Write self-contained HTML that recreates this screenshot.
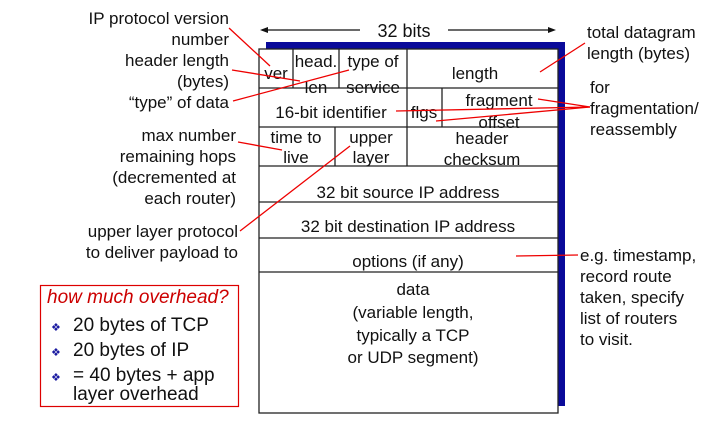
<!DOCTYPE html>
<html><head><meta charset="utf-8"><style>
body{margin:0;background:#fff;width:727px;height:426px;overflow:hidden}
svg{display:block}
text{font-family:"Liberation Sans",Arial,sans-serif;font-size:17px;fill:#111}
.l{text-anchor:end}
.c{text-anchor:middle}
.b{font-size:19px}
</style></head><body>
<svg width="727" height="426" viewBox="0 0 727 426">
<rect x="266" y="42" width="299" height="8" fill="#0a0a9a"/>
<rect x="558" y="42" width="7" height="364" fill="#0a0a9a"/>
<g stroke="#222" stroke-width="1.3" fill="none">
<rect x="259" y="49" width="299" height="364" fill="#fff"/>
<line x1="259" y1="88" x2="558" y2="88"/>
<line x1="259" y1="127" x2="558" y2="127"/>
<line x1="259" y1="166" x2="558" y2="166"/>
<line x1="259" y1="202" x2="558" y2="202"/>
<line x1="259" y1="238" x2="558" y2="238"/>
<line x1="259" y1="272" x2="558" y2="272"/>
<line x1="293" y1="49" x2="293" y2="88"/>
<line x1="339" y1="49" x2="339" y2="88"/>
<line x1="407" y1="49" x2="407" y2="166"/>
<line x1="442" y1="88" x2="442" y2="127"/>
<line x1="335" y1="127" x2="335" y2="166"/>
</g>
<line x1="262" y1="30" x2="360" y2="30" stroke="#111" stroke-width="1.2"/>
<polygon points="260,30 268,27 268,33" fill="#111"/>
<line x1="448" y1="30" x2="553" y2="30" stroke="#111" stroke-width="1.2"/>
<polygon points="556,30 548,27 548,33" fill="#111"/>
<text x="404" y="37" class="c" style="font-size:18px">32 bits</text>
<text x="276" y="79" class="c">ver</text>
<text x="316" y="67" class="c">head.</text>
<text x="316" y="93" class="c">len</text>
<text x="373" y="67" class="c">type of</text>
<text x="373" y="93" class="c">service</text>
<text x="475" y="79" class="c">length</text>
<text x="331" y="118" class="c">16-bit identifier</text>
<text x="424" y="118" class="c">flgs</text>
<text x="499" y="106" class="c">fragment</text>
<text x="499" y="128" class="c">offset</text>
<text x="296" y="143" class="c">time to</text>
<text x="296" y="163" class="c">live</text>
<text x="371" y="143" class="c">upper</text>
<text x="371" y="163" class="c">layer</text>
<text x="482" y="144" class="c">header</text>
<text x="482" y="165" class="c">checksum</text>
<text x="408" y="198" class="c">32 bit source IP address</text>
<text x="408" y="232" class="c">32 bit destination IP address</text>
<text x="408" y="267" class="c">options (if any)</text>
<text x="413" y="295" class="c">data</text>
<text x="413" y="318" class="c">(variable length,</text>
<text x="413" y="341" class="c">typically a TCP</text>
<text x="413" y="363" class="c">or UDP segment)</text>
<text x="229" y="24" class="l">IP protocol version</text>
<text x="229" y="45" class="l">number</text>
<text x="229" y="66" class="l">header length</text>
<text x="229" y="87" class="l">(bytes)</text>
<text x="229" y="108" class="l">“type” of data</text>
<text x="236" y="141" class="l">max number</text>
<text x="236" y="162" class="l">remaining hops</text>
<text x="236" y="183" class="l">(decremented at</text>
<text x="236" y="204" class="l">each router)</text>
<text x="238" y="237" class="l">upper layer protocol</text>
<text x="238" y="258" class="l">to deliver payload to</text>
<text x="587" y="38">total datagram</text>
<text x="587" y="59">length (bytes)</text>
<text x="590" y="93">for</text>
<text x="590" y="114">fragmentation/</text>
<text x="590" y="135">reassembly</text>
<text x="580" y="261">e.g. timestamp,</text>
<text x="580" y="282">record route</text>
<text x="580" y="303">taken, specify</text>
<text x="580" y="324">list of routers</text>
<text x="580" y="345">to visit.</text>
<g stroke="#e00" stroke-width="1.3">
<line x1="229" y1="28" x2="270" y2="66"/>
<line x1="232" y1="70" x2="300" y2="81"/>
<line x1="233" y1="101" x2="349" y2="70"/>
<line x1="238" y1="142" x2="282" y2="150"/>
<line x1="240" y1="231" x2="350" y2="146"/>
<line x1="540" y1="72" x2="585" y2="43"/>
<line x1="538" y1="99" x2="590" y2="107"/>
<line x1="396" y1="111" x2="590" y2="107"/>
<line x1="436" y1="121" x2="590" y2="107"/>
<line x1="516" y1="256" x2="578" y2="255"/>
</g>
<rect x="40.5" y="285.5" width="198" height="121" fill="none" stroke="#d00" stroke-width="1.2"/>
<text x="47" y="303" style="fill:#c00;font-style:italic;font-size:19px">how much overhead?</text>
<text x="51" y="331" style="fill:#1a1aa0;font-size:11px">❖</text>
<text x="51" y="356" style="fill:#1a1aa0;font-size:11px">❖</text>
<text x="51" y="381" style="fill:#1a1aa0;font-size:11px">❖</text>
<text x="73" y="331" class="b">20 bytes of TCP</text>
<text x="73" y="356" class="b">20 bytes of IP</text>
<text x="73" y="381" class="b">= 40 bytes + app</text>
<text x="73" y="400" class="b">layer overhead</text>
</svg>
</body></html>
